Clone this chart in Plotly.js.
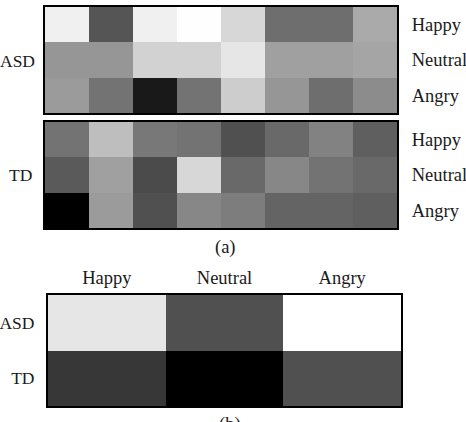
<!DOCTYPE html>
<html>
<head>
<meta charset="utf-8">
<script src="https://cdn.plot.ly/plotly-3.0.1.min.js"></script>
<style>html,body{margin:0;padding:0;background:#fff}#chart{width:466px;height:422px}</style>
</head>
<body>
<div id="chart"></div>
<script>
// Data (gray intensity, 0 = black, 255 = white)
const emotions = ['Happy', 'Neutral', 'Angry'];
const groups = ['ASD', 'TD'];
const segments = [1, 2, 3, 4, 5, 6, 7, 8];

const asdHappy   = [240, 85, 240, 254, 215, 110, 110, 170];
const asdNeutral = [150, 150, 210, 210, 230, 160, 160, 165];
const asdAngry   = [155, 115, 25, 115, 205, 150, 110, 140];

const tdHappy   = [115, 190, 120, 115, 80, 105, 130, 95];
const tdNeutral = [90, 160, 75, 215, 105, 135, 115, 105];
const tdAngry   = [0, 155, 80, 135, 125, 100, 100, 95];

const summaryASD = [230, 80, 255];
const summaryTD  = [55, 0, 80];

const W = 466, H = 422;
const px = v => v / W;
const py = v => 1 - v / H;

const gray = [[0, '#000000'], [1, '#ffffff']];
const font = {family: 'Liberation Serif, serif', size: 18.5, color: '#1a1a1a'};
const fontSide = {family: 'Liberation Serif, serif', size: 17.5, color: '#1a1a1a'};

const hm = (z, x, y, xa, ya) => ({
  type: 'heatmap', z: z, x: x, y: y, xaxis: xa, yaxis: ya,
  colorscale: gray, zmin: 0, zmax: 255, showscale: false, hoverinfo: 'skip'
});

const data = [
  hm([asdHappy, asdNeutral, asdAngry], segments, emotions, 'x', 'y'),
  hm([tdHappy, tdNeutral, tdAngry], segments, emotions, 'x2', 'y2'),
  hm([summaryASD, summaryTD], emotions, groups, 'x3', 'y3')
];

const frame = {showline: true, mirror: true, linewidth: 2, linecolor: '#000',
  showgrid: false, zeroline: false, ticks: '', fixedrange: true};

const layout = {
  width: W, height: H,
  margin: {l: 0, r: 0, t: 0, b: 0},
  paper_bgcolor: '#fff', plot_bgcolor: '#fff',
  font: font,
  showlegend: false,
  xaxis: Object.assign({}, frame, {domain: [px(45), px(397)], anchor: 'y', showticklabels: false}),
  yaxis: Object.assign({}, frame, {domain: [py(113), py(7)], anchor: 'x', side: 'right',
    type: 'category', autorange: 'reversed', ticklabelstandoff: 9}),
  xaxis2: Object.assign({}, frame, {domain: [px(45), px(397)], anchor: 'y2', showticklabels: false}),
  yaxis2: Object.assign({}, frame, {domain: [py(228), py(122)], anchor: 'x2', side: 'right',
    type: 'category', autorange: 'reversed', ticklabelstandoff: 9}),
  xaxis3: Object.assign({}, frame, {domain: [px(48), px(401)], anchor: 'y3', side: 'top',
    type: 'category', ticklabelstandoff: 2}),
  yaxis3: Object.assign({}, frame, {domain: [py(406), py(295)], anchor: 'x3',
    type: 'category', autorange: 'reversed', ticklabelstandoff: 8,
    tickfont: fontSide}),
  annotations: [
    {text: 'ASD', xref: 'paper', yref: 'paper', x: px(37), y: py(61), xanchor: 'right', yanchor: 'middle', showarrow: false, font: fontSide},
    {text: 'TD', xref: 'paper', yref: 'paper', x: px(34), y: py(175), xanchor: 'right', yanchor: 'middle', showarrow: false, font: fontSide},
    {text: '(a)', xref: 'paper', yref: 'paper', x: px(225), y: py(247), xanchor: 'center', yanchor: 'middle', showarrow: false, font: font},
    {text: '(b)', xref: 'paper', yref: 'paper', x: px(230), y: py(424), xanchor: 'center', yanchor: 'middle', showarrow: false, font: font}
  ]
};

Plotly.newPlot('chart', data, layout, {displayModeBar: false, staticPlot: true});
</script>
</body>
</html>
